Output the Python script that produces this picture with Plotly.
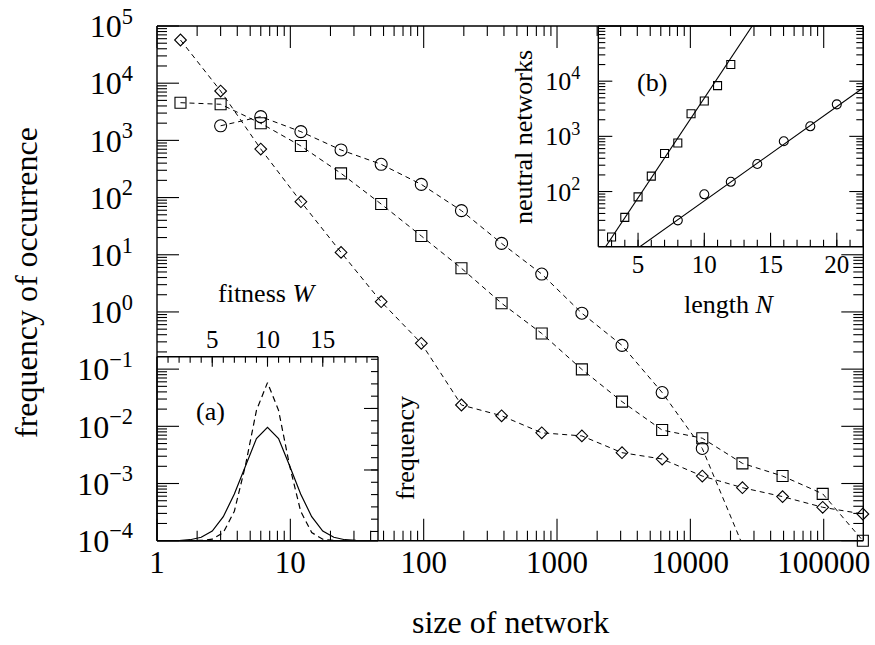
import math
import plotly.graph_objects as go

# ---------------- data ----------------
net_sizes = [1.5, 3, 6, 12, 24, 48, 96, 192, 384, 768, 1536, 3072, 6144,
             12288, 24576, 49152, 98304, 196608]

circle_sizes = [3, 6, 12, 24, 48, 96, 192, 384, 768, 1536, 3072, 6144, 12288]
circle_freq = [1800, 2600, 1420, 680, 382, 170, 59, 15.8, 4.6, 0.95, 0.26,
               0.039, 0.0041]
circle_tail_size = 24576
circle_tail_freq = 8.5e-5

square_freq = [4560, 4280, 1990, 798, 265, 77, 21.3, 5.8, 1.42, 0.42, 0.099,
               0.027, 0.0086, 0.0062, 0.00225, 0.00135, 0.00066, 0.0001]

diamond_freq = [56900, 7300, 706, 84.7, 11, 1.51, 0.283, 0.0236, 0.0153,
                0.0077, 0.0068, 0.00346, 0.00268, 0.00135, 0.000845,
                0.00059, 0.000384, 0.000293]

# inset (a): frequency vs fitness W (arbitrary linear units)
fitness_W = list(range(0, 21))
freq_solid = [0, 0, 0, 0.08, 0.28, 0.78, 1.95, 3.8, 6.1, 8.3, 9.22, 8.3, 6.1,
              3.8, 1.95, 0.78, 0.28, 0.08, 0.02, 0, 0]
freq_dashed = [0, 0, 0, 0, 0.02, 0.12, 0.66, 2.4, 6.1, 10.6, 12.85, 10.6,
               6.1, 2.4, 0.66, 0.12, 0.02, 0, 0, 0, 0]

# inset (b): number of neutral networks vs length N
sq_N = [3, 4, 5, 6, 7, 8, 9, 10, 11, 12]
sq_nets = [15, 34, 80, 190, 490, 760, 2570, 4370, 8300, 20000]
sq_fit_N = [2, 14]
sq_fit_nets = [6.3, 1.38e5]

ci_N = [8, 10, 12, 14, 16, 18, 20]
ci_nets = [30, 89, 150, 315, 815, 1520, 3800]
ci_fit_N = [5.14, 22]
ci_fit_nets = [10, 7590]

# tick values
main_x_ticks = [1, 10, 100, 1000, 10000, 100000]
main_y_exps = [-4, -3, -2, -1, 0, 1, 2, 3, 4, 5]
inset_a_ticks = [5, 10, 15]
inset_a_minor = list(range(1, 20))
inset_a_y_major = [5.75, 10.75]
inset_a_y_minor = [0.75 + k for k in range(15)]
inset_b_x_major = [5, 10, 15, 20]
inset_b_x_minor = list(range(3, 22))
inset_b_exps = [2, 3, 4]
log_digits = [2, 3, 4, 5, 6, 7, 8, 9]

# ---------------- layout geometry ----------------
W, H = 875, 645
FONT = "Liberation Serif"


def fx(px):
    return px / W


def fy(px):
    return (H - px) / H


main_x = [fx(157), fx(863.3)]
main_y = [fy(540.7), fy(26)]
ia_x = [fx(157), fx(378)]
ia_y = [fy(540.7), fy(356.7)]
ib_x = [fx(598.3), fx(863.3)]
ib_y = [fy(246.7), fy(26)]

X_LOG = [0, 5.297]
Y_LOG = [-4, 5]
IA_X = [0, 20]
IA_Y = [0, 14.96]
IB_X = [2, 22]
IB_Y = [1, 5]


def to_paper(dom, rng, v, log=False):
    t = math.log10(v) if log else v
    return dom[0] + (t - rng[0]) / (rng[1] - rng[0]) * (dom[1] - dom[0])


def sup_label(e):
    return "10<sup>" + ("\u2212" if e < 0 else "") + str(abs(e)) + "</sup>"


def log_minor(lo_exp, hi_exp, vmax):
    out = []
    for k in range(lo_exp, hi_exp + 1):
        for m in log_digits:
            v = m * 10.0 ** k
            if v < vmax:
                out.append(v)
    return out


fig = go.Figure()
dash_main = "5px,4px"
black = "#000000"

# main traces
fig.add_trace(go.Scatter(
    x=circle_sizes + [circle_tail_size], y=circle_freq + [circle_tail_freq],
    mode="lines", line=dict(color=black, width=1, dash=dash_main),
    xaxis="x", yaxis="y", showlegend=False, hoverinfo="skip"))
fig.add_trace(go.Scatter(
    x=circle_sizes, y=circle_freq, mode="markers",
    marker=dict(symbol="circle-open", size=12, color=black, line=dict(width=1.1)),
    xaxis="x", yaxis="y", showlegend=False, cliponaxis=False))
fig.add_trace(go.Scatter(
    x=net_sizes, y=square_freq, mode="lines+markers",
    line=dict(color=black, width=1, dash=dash_main),
    marker=dict(symbol="square-open", size=11, color=black, line=dict(width=1.1)),
    xaxis="x", yaxis="y", showlegend=False, cliponaxis=False))
fig.add_trace(go.Scatter(
    x=net_sizes, y=diamond_freq, mode="lines+markers",
    line=dict(color=black, width=1, dash=dash_main),
    marker=dict(symbol="diamond-open", size=9, color=black, line=dict(width=1.1)),
    xaxis="x", yaxis="y", showlegend=False, cliponaxis=False))

# inset (a)
fig.add_trace(go.Scatter(
    x=fitness_W, y=freq_solid, mode="lines",
    line=dict(color=black, width=1.2), xaxis="x2", yaxis="y2",
    showlegend=False))
fig.add_trace(go.Scatter(
    x=fitness_W, y=freq_dashed, mode="lines",
    line=dict(color=black, width=1.2, dash="6px,4px"), xaxis="x2", yaxis="y2",
    showlegend=False))

# inset (b)
fig.add_trace(go.Scatter(
    x=sq_fit_N, y=sq_fit_nets, mode="lines", line=dict(color=black, width=1.1),
    xaxis="x3", yaxis="y3", showlegend=False))
fig.add_trace(go.Scatter(
    x=ci_fit_N, y=ci_fit_nets, mode="lines", line=dict(color=black, width=1.1),
    xaxis="x3", yaxis="y3", showlegend=False))
fig.add_trace(go.Scatter(
    x=sq_N, y=sq_nets, mode="markers",
    marker=dict(symbol="square-open", size=8, color=black, line=dict(width=1.1)),
    xaxis="x3", yaxis="y3", showlegend=False))
fig.add_trace(go.Scatter(
    x=ci_N, y=ci_nets, mode="markers",
    marker=dict(symbol="circle-open", size=9, color=black, line=dict(width=1.1)),
    xaxis="x3", yaxis="y3", showlegend=False))

# ---------------- frames and tick marks (figure-wide overlay axes) ----------------
seg_x = {"tick": [], "frame": []}
seg_y = {"tick": [], "frame": []}


def seg(x0, y0, x1, y1, kind="tick"):
    seg_x[kind] += [x0, x1, None]
    seg_y[kind] += [y0, y1, None]


def xticks(vals, dom, rng, log, ybase, length, direction):
    for v in vals:
        p = to_paper(dom, rng, v, log)
        seg(p, ybase, p, ybase + direction * length / H)


def yticks(vals, dom, rng, log, xbase, length, direction, ymax=None):
    for v in vals:
        p = to_paper(dom, rng, v, log)
        if ymax is not None and p >= ymax:
            continue
        seg(xbase, p, xbase + direction * length / W, p)


main_x_minor = log_minor(0, 5, 10 ** X_LOG[1])
for yb, d in ((main_y[0], 1), (main_y[1], -1)):
    xticks(main_x_ticks, main_x, X_LOG, True, yb, 22, d)
    xticks(main_x_minor, main_x, X_LOG, True, yb, 10, d)
main_y_major = [10.0 ** e for e in main_y_exps]
main_y_minor = log_minor(-4, 4, 10 ** Y_LOG[1])
yticks(main_y_major, main_y, Y_LOG, True, main_x[0], 22, 1)
yticks(main_y_minor, main_y, Y_LOG, True, main_x[0], 10, 1)
yticks(main_y_major, main_y, Y_LOG, True, main_x[1], 22, -1, ymax=ib_y[0] - 0.002)
yticks(main_y_minor, main_y, Y_LOG, True, main_x[1], 10, -1, ymax=ib_y[0] - 0.002)
xticks(inset_a_minor, ia_x, IA_X, False, ia_y[1], 6, -1)
xticks(inset_a_ticks, ia_x, IA_X, False, ia_y[1], 10, -1)
yticks(inset_a_y_minor, ia_y, IA_Y, False, ia_x[1], 7, -1)
yticks(inset_a_y_major, ia_y, IA_Y, False, ia_x[1], 14, -1)
xticks(inset_b_x_minor, ib_x, IB_X, False, ib_y[0], 7, 1)
xticks(inset_b_x_major, ib_x, IB_X, False, ib_y[0], 14, 1)
ib_y_major = [10.0 ** e for e in inset_b_exps]
ib_y_minor = log_minor(1, 4, 10 ** IB_Y[1])
for xb, d in ((ib_x[0], 1), (ib_x[1], -1)):
    yticks(ib_y_major, ib_y, IB_Y, True, xb, 14, d)
    yticks(ib_y_minor, ib_y, IB_Y, True, xb, 7, d)

for dx, dy in ((main_x, main_y), (ia_x, ia_y), (ib_x, ib_y)):
    seg(dx[0], dy[0], dx[1], dy[0], "frame")
    seg(dx[1], dy[0], dx[1], dy[1], "frame")
    seg(dx[1], dy[1], dx[0], dy[1], "frame")
    seg(dx[0], dy[1], dx[0], dy[0], "frame")

fig.add_trace(go.Scatter(
    x=seg_x["tick"], y=seg_y["tick"], mode="lines",
    line=dict(color=black, width=1.1), xaxis="x4", yaxis="y4",
    showlegend=False, hoverinfo="skip", connectgaps=False))
fig.add_trace(go.Scatter(
    x=seg_x["frame"], y=seg_y["frame"], mode="lines",
    line=dict(color=black, width=1.4), xaxis="x4", yaxis="y4",
    showlegend=False, hoverinfo="skip", connectgaps=False))

axis_common = dict(showline=False, showgrid=False, zeroline=False, ticks="",
                   automargin=False)

fig.update_layout(
    template="none",
    width=W, height=H, margin=dict(l=0, r=0, t=0, b=0, pad=0),
    paper_bgcolor="white", plot_bgcolor="rgba(0,0,0,0)",
    font=dict(family=FONT, color=black),
    xaxis=dict(
        **axis_common, domain=main_x, anchor="y", type="log",
        range=X_LOG, tickmode="array", tickvals=main_x_ticks,
        ticktext=[str(v) for v in main_x_ticks],
        tickfont=dict(size=31, family=FONT)),
    yaxis=dict(
        **axis_common, domain=main_y, anchor="x", type="log",
        range=Y_LOG, tickmode="array",
        tickvals=[10.0 ** e for e in main_y_exps],
        ticktext=[sup_label(e) for e in main_y_exps],
        tickfont=dict(size=32, family=FONT), ticklabelstandoff=23),
    xaxis2=dict(
        **axis_common, domain=ia_x, anchor="y2", side="top",
        range=IA_X, tickmode="array", tickvals=inset_a_ticks,
        tickfont=dict(size=25, family=FONT), ticklabelstandoff=3),
    yaxis2=dict(
        **axis_common, domain=ia_y, anchor="x2", side="right",
        range=IA_Y, showticklabels=False),
    xaxis3=dict(
        **axis_common, domain=ib_x, anchor="y3", range=IB_X,
        tickmode="array", tickvals=inset_b_x_major,
        tickfont=dict(size=25, family=FONT)),
    yaxis3=dict(
        **axis_common, domain=ib_y, anchor="x3", type="log", range=IB_Y,
        tickmode="array", tickvals=[10.0 ** e for e in inset_b_exps],
        ticktext=[sup_label(e) for e in inset_b_exps],
        tickfont=dict(size=26, family=FONT), ticklabelstandoff=17),
    xaxis4=dict(domain=[0, 1], range=[0, 1], visible=False, anchor="y4",
                fixedrange=True),
    yaxis4=dict(domain=[0, 1], range=[0, 1], visible=False, anchor="x4",
                fixedrange=True),
)


def ann(text, x, y, size, angle=0):
    fig.add_annotation(text=text, x=fx(x), y=fy(y), xref="paper", yref="paper",
                       showarrow=False, textangle=angle,
                       font=dict(size=size, family=FONT, color=black),
                       xanchor="center", yanchor="middle")


ann("size of network", 510, 622, 32)
ann("frequency of occurrence", 26, 283, 32, -90)
ann("fitness <i>W</i>", 267, 293, 26)
ann("frequency", 405, 448, 26, -90)
ann("neutral networks", 524, 137, 26, -90)
ann("length <i>N</i>", 729, 305, 26)
ann("(a)", 210, 412, 26)
ann("(b)", 652, 83, 26)

fig.write_html("out.html", post_script="document.body.style.margin='0';",
               config={"displayModeBar": False})
